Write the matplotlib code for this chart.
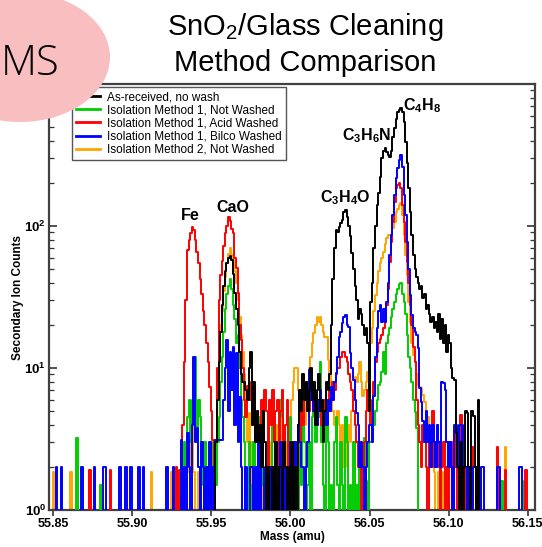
import numpy as np
import matplotlib
matplotlib.use("Agg")
import matplotlib.pyplot as plt
from matplotlib.patches import Ellipse
from matplotlib.ticker import FixedLocator, FuncFormatter, LogLocator

plt.rcParams['font.family'] = ['Liberation Sans', 'DejaVu Sans']
plt.rcParams['mathtext.fontset'] = 'custom'
plt.rcParams['mathtext.rm'] = 'Liberation Sans'
plt.rcParams['mathtext.bf'] = 'Liberation Sans:bold'
plt.rcParams['mathtext.it'] = 'Liberation Sans:italic'

# mass axis of the spectra, 1 mmu bins
mass = np.round(np.arange(55.846, 56.156, 0.001), 3)
step = 0.001

# counts, as (first mass, run of counts); bins not listed are zero
black_runs = [
    (55.953, [3, 6, 11, 18, 28, 38, 48, 55, 60, 61, 58, 46, 34, 26, 20, 13, 9, 8, 8, 7,
              6, 10, 13, 4, 8, 3, 5, 3, 4, 2, 5, 3, 0, 2, 0, 0, 2, 0, 3, 0,
              2, 2, 0, 3, 2, 0, 2, 0]),
    (56.001, [3, 0, 2, 0, 4, 7, 5, 9, 6, 8, 5, 7, 10, 6, 8, 4, 7, 9, 5, 6,
              3, 5, 8, 7, 9, 20, 42, 70, 93, 90, 98, 105, 110, 125, 130, 116, 100, 85, 65, 50,
              38, 30, 22, 26, 24, 20, 17, 19, 15, 5, 29, 40, 70, 100, 140, 170, 220, 300, 340, 355,
              333, 315, 305, 340, 420, 490, 570, 640, 660, 676, 640, 540, 390, 280, 185, 125, 86, 62, 50, 44,
              40, 36, 38, 31, 33, 26, 28, 24, 21, 23, 19, 21, 18, 24, 16, 22, 15, 20, 13, 17,
              15, 10, 8.5, 8.2, 3.5, 2, 0, 3, 0, 2, 5, 4.8, 2, 0, 5, 4.6, 2, 0, 6]),
]

green_runs = [
    (55.865, [3.2]),
    (55.880, [1.5]),
    (55.931, [1.5, 0, 3, 1.5, 4.5, 6, 3, 6, 4.5, 12, 3, 6, 4.5, 3, 1.5, 3, 0, 1.5, 0, 3,
              1.5, 0, 1.5, 3, 4.5, 8, 12, 18, 26, 33, 38, 42, 36, 28, 22, 15, 17, 10, 6, 4.5,
              3, 1.5, 0, 3, 0, 1.5, 3, 0, 1.5, 4.5, 0, 3, 1.5, 0, 0, 3, 1.5, 0, 4.5, 3,
              1.5, 0, 3, 6, 4.5, 3, 1.5, 0, 3]),
    (56.000, [4.5, 1.5, 0, 3, 1.5, 0, 3, 1.5, 4.5, 3, 0, 1.5, 3, 0, 4.5, 7, 3, 6, 4.5, 11,
              3, 1.5, 0, 4.5, 3, 0, 1.5, 0, 3, 4.5, 1.5, 0, 3, 1.5, 0, 4.5, 3, 0, 1.5, 0,
              3, 0, 1.5, 0, 3, 1.5, 0, 3.2, 1.6, 0, 3, 3, 3.4, 4, 5, 6, 7.6, 8, 9.4, 13,
              9, 15, 17, 19, 23, 26, 29, 33, 36, 39, 40, 33, 29, 24, 17, 12, 10, 8, 6, 4.9,
              3.8]),
    (56.134, [1.6]),
    (56.148, [1.6]),
]

red_runs = [
    (55.873, [1.9]),
    (55.886, [1.9]),
    (55.928, [2, 0, 1.9, 1.5, 4, 11, 30, 68, 80, 89, 98, 93, 80, 66, 55, 42, 33, 25, 20, 15,
              11, 7.4, 5, 3.1, 1.2, 3, 10, 30, 45, 57, 72, 89, 100, 116, 108, 95, 89, 60, 51, 34,
              20, 15.7, 10, 6, 4.5, 7.5, 8, 6, 4, 6, 3, 5, 2, 4, 6, 3, 7, 5, 2, 6,
              4, 7, 3, 5, 6, 2, 5, 7, 3, 4, 6, 2, 0, 0, 2, 3, 2, 4, 3, 5,
              4, 6, 8, 7, 5, 6, 7, 5, 6, 4, 5, 6, 4, 5, 6, 6, 5, 7, 6, 8,
              7, 9, 10, 10, 12, 13, 13, 12, 11, 9, 8, 7, 5, 4, 3, 2, 3, 0, 2, 3,
              5, 7, 5, 4, 6, 8, 11, 13, 15, 16, 17, 19, 21, 28, 36, 56, 77, 107, 148, 185,
              194, 200, 185, 140, 107, 77, 56, 40, 28, 20, 14, 11, 6, 4, 3, 2, 4, 3, 2, 0,
              3, 2, 5, 2, 3, 4, 2, 0, 2, 3, 0, 2, 0, 2, 3, 0, 2, 3.8, 0, 2,
              4.7, 0, 2, 0, 2, 0, 0, 2.8]),
    (56.131, [2.8]),
    (56.136, [1.9]),
    (56.149, [1.9]),
]

blue_runs = [
    (55.852, [2]), (55.855, [2]), (55.868, [2]), (55.876, [2]), (55.882, [2, 2]),
    (55.892, [2]), (55.896, [2]), (55.899, [2]), (55.904, [2]), (55.907, [2]),
    (55.922, [2]), (55.926, [2]),
    (55.931, [3.1, 0, 2, 0, 3.5, 2, 0, 4, 12, 3, 3.8, 2, 0, 3, 2, 0, 2, 0, 3, 0,
              2, 0, 3.1, 3.1, 3.1, 3.1, 3.1, 6, 10, 15.7, 5, 13, 7, 14, 4, 12.7, 3, 6.2, 2, 0,
              0, 2, 0, 0, 2, 2, 0, 2, 0, 3, 0, 2, 2, 0, 2, 0, 2, 0, 2, 0,
              2, 2, 0, 3, 2, 0, 2, 2, 0, 3, 2, 2, 3, 2, 4, 3, 2, 2, 0, 2,
              3, 9.7, 6, 8, 5, 6.2, 4, 6, 7, 5, 4, 5, 4, 6, 5, 7.4, 6, 8, 9.2, 12,
              16.5, 18, 20.7, 23, 23.6, 20, 19.4, 12.7, 10, 8.2, 6, 4.8, 4, 2, 3, 2, 0, 2, 3, 4,
              4, 3, 6.4, 12, 19, 25, 28, 21, 26, 21, 29, 40, 62, 86, 119, 165, 217, 257, 290, 315,
              260, 165, 119, 77, 50, 32.6, 23.6, 19, 18, 17, 13.8, 7.2, 5.8, 4.2, 3, 5, 3, 4, 2, 4,
              3, 2, 4, 3, 2, 8, 7.8, 7, 3, 2, 3, 2, 0, 4, 4, 2, 4, 4, 2, 4,
              2, 0, 2, 2, 0, 2, 2, 0, 2, 0, 2, 2]),
    (56.131, [2, 2]),
    (56.145, [2, 2]),
]

orange_runs = [
    (55.850, [1.85]), (55.861, [1.85]), (55.912, [1.85]), (55.925, [1.85]), (55.929, [1.85]),
    (55.935, [1.85, 3.4, 0, 4.2, 1.85, 0, 0, 1.85, 0, 0, 0, 1.85, 0, 0, 0, 0, 0, 0, 3, 8,
              14, 20, 25, 35, 44, 55, 64, 70, 62, 57, 48, 40, 30, 23, 17, 13, 9, 5, 3, 4.8,
              3, 0, 2, 0, 0, 1.85, 0, 3, 0, 0, 2, 0, 0, 3, 0, 2, 4, 2, 0, 3,
              5, 2, 0, 3, 2, 4, 6, 8, 10, 10, 7, 4, 3, 5, 4, 6, 8, 10, 12, 15,
              17.6, 20, 22.8, 21, 22.8, 20, 18, 16.5, 16.5, 11.4, 9, 7, 5, 4, 3, 5, 4, 3, 4, 2,
              3, 2, 4, 3, 5, 6, 8.6, 8, 9, 11, 8, 6.4, 7, 8, 9.4, 12, 15, 19.2, 25, 32.6,
              40, 48, 55, 60, 66, 75, 82, 86, 86, 86, 97, 107, 125, 132, 140, 145, 119, 86, 62, 45,
              29, 21, 15, 12.3, 11, 9, 7.6, 7.4, 7.2, 6.5, 5.8, 5, 4.5, 3.8, 3, 2.4, 1.85, 0, 0, 1.85]),
    (56.096, [1.85]), (56.099, [1.85]), (56.107, [1.85]), (56.136, [2.8]),
]

series_labels = ["As-received, no wash",
                 "Isolation Method 1, Not Washed",
                 "Isolation Method 1, Acid Washed",
                 "Isolation Method 1, Bilco Washed",
                 "Isolation Method 2, Not Washed"]
series_colors = ["#000000", "#00CC00", "#FF0000", "#0000FF", "#FFA500"]

x_ticks = [55.85, 55.90, 55.95, 56.00, 56.05, 56.10, 56.15]
y_ticks = [1, 10, 100, 1000]

# peak labels: (text, mass, counts at baseline)
peak_labels = [
    ("Fe", 55.9364, 110),
    ("CaO", 55.9633, 125),
    (r"$\mathbf{C_3H_4O}$", 56.0345, 148),
    (r"$\mathbf{C_3H_6N}$", 56.0484, 400),
    (r"$\mathbf{C_4H_8}$", 56.0832, 650),
]


def build(runs):
    counts = np.zeros(mass.size)
    for start, vals in runs:
        i = int(round((start - mass[0]) / step))
        counts[i:i + len(vals)] = vals
    return counts


def y_label(v, p):
    # the top decade label sits under the pink badge in the original, so leave it blank
    if v >= 1000:
        return ""
    return r"$\mathbf{10^{%d}}$" % round(np.log10(v))


all_counts = [build(r) for r in (black_runs, green_runs, red_runs, blue_runs, orange_runs)]

fig = plt.figure(figsize=(5.42, 5.47), dpi=100)
ax = fig.add_axes([49 / 542, 1 - 510 / 547, 486 / 542, 426 / 547])

handles = [None] * 5
draw_order = [4, 1, 2, 3, 0]  # orange, green, red, blue, black on top
for k, idx in enumerate(draw_order):
    line, = ax.plot(mass, all_counts[idx], drawstyle='steps-mid', color=series_colors[idx],
                    lw=1.4, zorder=2 + k)
    handles[idx] = line

ax.set_yscale('log')
ax.set_ylim(1, 1000)
ax.set_xlim(55.8472, 56.1547)

ax.xaxis.set_major_locator(FixedLocator(x_ticks))
ax.xaxis.set_major_formatter(FuncFormatter(lambda v, p: "%.2f" % v))
ax.yaxis.set_major_locator(FixedLocator(y_ticks))
ax.yaxis.set_minor_locator(LogLocator(base=10, subs=np.arange(2, 10)))
ax.yaxis.set_major_formatter(FuncFormatter(y_label))

ax.tick_params(axis='x', which='major', direction='out', length=4.5, width=1.2,
               labelsize=9, pad=1.5, colors='#333333', labelcolor='black')
for lab in ax.get_xticklabels():
    lab.set_fontweight('bold')
ax.tick_params(axis='y', which='major', direction='in', length=6, width=1.2,
               right=True, labelsize=9.5, pad=2, colors='#333333', labelcolor='black')
ax.tick_params(axis='y', which='minor', direction='in', length=3.5, width=0.9,
               right=True, colors='#333333')

for sp in ax.spines.values():
    sp.set_color('#404040')
    sp.set_linewidth(1.6)

ax.set_xlabel("Mass (amu)", fontsize=8.5, fontweight='bold')
ax.xaxis.set_label_coords(0.5, -0.05)
ax.set_ylabel("Secondary Ion Counts", fontsize=8.5, fontweight='bold')
ax.yaxis.set_label_coords(-0.052, 0.5)

for txt, m, c in peak_labels:
    ax.text(m, c, txt, ha='center', va='baseline', fontsize=11.5, fontweight='bold', zorder=10)

leg = ax.legend(handles, series_labels, loc='upper left', bbox_to_anchor=(23 / 486, 1 - 3 / 426),
                borderaxespad=0, fontsize=8.5, fancybox=False, framealpha=1,
                edgecolor='#555555', labelspacing=0.1, handlelength=2.0,
                handletextpad=0.6, borderpad=0.35)
leg.get_frame().set_linewidth(1.0)
for h in leg.legend_handles:
    h.set_linewidth(2)
leg.set_zorder(20)

fig.text(305 / 542, 1 - 35 / 547, r"SnO$_2$/Glass Cleaning", ha='center', va='baseline', fontsize=21)
fig.text(305 / 542, 1 - 71 / 547, "Method Comparison", ha='center', va='baseline', fontsize=21)

blob = Ellipse((20 / 542, 1 - 57 / 547), 180 / 542, 130 / 547, transform=fig.transFigure,
               facecolor='#F8BEC0', edgecolor='none', zorder=5)
fig.add_artist(blob)
fig.text(1 / 542, 1 - 75 / 547, "MS", ha='left', va='baseline', fontsize=30,
         family=['Open Sans', 'DejaVu Sans'], fontweight='light', zorder=6)

fig.savefig("out.png", dpi=100)
